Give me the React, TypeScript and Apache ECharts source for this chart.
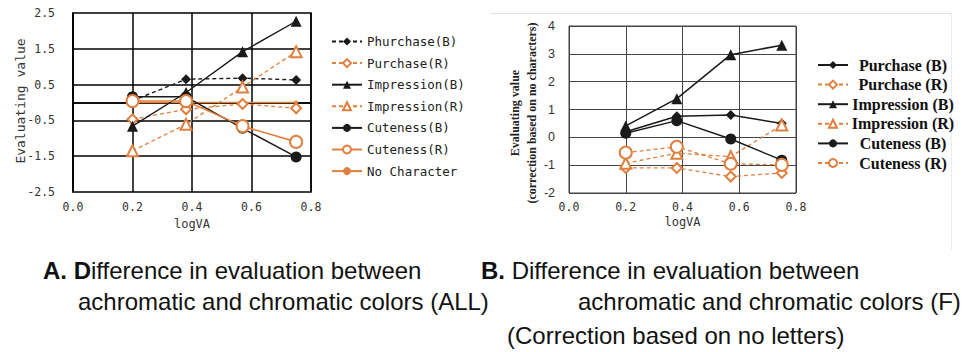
import React, { useEffect, useRef } from "react";
import * as echarts from "echarts";

const logVA = [0.2, 0.38, 0.57, 0.75];

// Chart A (ALL)
const namesA = ["Phurchase(B)", "Purchase(R)", "Impression(B)", "Impression(R)", "Cuteness(B)", "Cuteness(R)", "No Character"];
const phurchaseB_A = [0.05, 0.65, 0.68, 0.63];
const purchaseR_A = [-0.47, -0.19, -0.04, -0.16];
const impressionB_A = [-0.66, 0.28, 1.42, 2.27];
const impressionR_A = [-1.35, -0.61, 0.43, 1.42];
const cutenessB_A = [0.16, 0.16, -0.72, -1.52];
const cutenessR_A = [0.04, 0.04, -0.66, -1.1];
const noCharacter_A = [0, 0, 0, 0];
const yTicksA = [-2.5, -1.5, -0.5, 0.5, 1.5, 2.5];
const yGridA = [-1.5, -0.5, 0, 0.5, 1.5];

// Chart B (F)
const namesB = ["Purchase (B)", "Purchase (R)", "Impression (B)", "Impression (R)", "Cuteness (B)", "Cuteness (R)"];
const purchaseB_B = [0.2, 0.76, 0.8, 0.5];
const purchaseR_B = [-1.1, -1.1, -1.41, -1.28];
const impressionB_B = [0.41, 1.39, 2.97, 3.31];
const impressionR_B = [-0.93, -0.57, -0.69, 0.44];
const cutenessB_B = [0.15, 0.6, -0.06, -0.82];
const cutenessR_B = [-0.55, -0.34, -0.95, -0.99];

const BLACK = "#1a1a1a";
const ORANGE = "#e07f3e";
const MONO = "DejaVu Sans Mono";
const SERIF = "Liberation Serif, Times New Roman, serif";

const pts = (ys: number[]) => ys.map((y, i) => [logVA[i], y]);

export default function App() {
  const ref = useRef<HTMLDivElement>(null);
  useEffect(() => {
    if (!ref.current) return;
    const chart = echarts.init(ref.current, null, { renderer: "svg" });

    const mk = (
      name: string, data: number[], idx: number, color: string, dashed: boolean,
      symbol: string, size: number, width: number
    ) => ({
      type: "line",
      name,
      xAxisIndex: idx,
      yAxisIndex: idx,
      data: pts(data),
      symbol,
      symbolSize: size,
      itemStyle: { color },
      lineStyle: { color, width, type: dashed ? [4, 3] : "solid" },
      z: 3,
    });

    const seriesA: any[] = [
      mk(namesA[0], phurchaseB_A, 0, BLACK, true, "diamond", 10, 1.4),
      mk(namesA[1], purchaseR_A, 0, ORANGE, true, "emptyDiamond", 10, 1.3),
      mk(namesA[2], impressionB_A, 0, BLACK, false, "triangle", 11, 1.4),
      mk(namesA[3], impressionR_A, 0, ORANGE, true, "emptyTriangle", 11, 1.3),
      mk(namesA[4], cutenessB_A, 0, BLACK, false, "circle", 11, 1.4),
      mk(namesA[5], cutenessR_A, 0, ORANGE, false, "emptyCircle", 12, 1.6),
      {
        ...mk(namesA[6], noCharacter_A, 0, ORANGE, false, "circle", 4, 1.5),
        z: 2,
        markLine: {
          silent: true,
          z: 1,
          symbol: ["none", "none"],
          label: { show: false },
          emphasis: { disabled: true },
          lineStyle: { color: "#000", type: "solid", width: 1.5, opacity: 1 },
          data: yGridA.map((v) => ({ yAxis: v })),
        },
      },
    ];

    const seriesB: any[] = [
      mk(namesB[0], purchaseB_B, 1, BLACK, false, "diamond", 10, 1.5),
      mk(namesB[1], purchaseR_B, 1, ORANGE, true, "emptyDiamond", 10, 1.3),
      mk(namesB[2], impressionB_B, 1, BLACK, false, "triangle", 11, 1.5),
      mk(namesB[3], impressionR_B, 1, ORANGE, true, "emptyTriangle", 11, 1.3),
      mk(namesB[4], cutenessB_B, 1, BLACK, false, "circle", 11, 1.5),
      mk(namesB[5], cutenessR_B, 1, ORANGE, true, "emptyCircle", 12, 1.3),
    ];

    const capFont = "Liberation Sans, Arial, sans-serif";
    const capSize = 24;

    chart.setOption({
      animation: false,
      backgroundColor: "#fff",
      grid: [
        { left: 73, top: 13, width: 238, height: 179, show: true, borderColor: "#000", borderWidth: 1.5 },
        { left: 569, top: 26, width: 227, height: 167, show: true, borderColor: "#444", borderWidth: 1 },
      ],
      xAxis: [
        {
          type: "value", gridIndex: 0, min: 0, max: 0.8, interval: 0.2,
          axisLine: { show: true, lineStyle: { color: "#000", width: 1.5 } },
          axisTick: { show: false },
          splitLine: { show: true, lineStyle: { color: "#000", width: 1.5 } },
          axisLabel: { formatter: (v: number) => v.toFixed(1), fontFamily: MONO, fontSize: 11.5, color: "#333", margin: 9 },
          name: "logVA", nameLocation: "middle", nameGap: 24,
          nameTextStyle: { fontFamily: MONO, fontSize: 12, color: "#333" },
        },
        {
          type: "value", gridIndex: 1, min: 0, max: 0.8, interval: 0.2,
          axisLine: { show: true, lineStyle: { color: "#444" } },
          axisTick: { show: false },
          splitLine: { show: true, lineStyle: { color: "#444", width: 1 } },
          axisLabel: { formatter: (v: number) => v.toFixed(1), fontFamily: MONO, fontSize: 11.5, color: "#333", margin: 8 },
          name: "logVA", nameLocation: "middle", nameGap: 23,
          nameTextStyle: { fontFamily: MONO, fontSize: 12, color: "#333" },
        },
      ],
      yAxis: [
        {
          type: "value", gridIndex: 0, min: -2.5, max: 2.5, interval: 0.5,
          axisLine: { show: true, lineStyle: { color: "#000", width: 1.5 } },
          axisTick: { show: false },
          splitLine: { show: false },
          axisLabel: {
            formatter: (v: number) => (yTicksA.some((t) => Math.abs(t - v) < 1e-6) ? v.toFixed(1) : ""),
            fontFamily: MONO, fontSize: 11.5, color: "#333", margin: 18,
          },
        },
        {
          type: "value", gridIndex: 1, min: -2, max: 4, interval: 1,
          axisLine: { show: true, lineStyle: { color: "#444" } },
          axisTick: { show: false },
          splitLine: { show: true, lineStyle: { color: "#444", width: 1 } },
          axisLabel: { fontFamily: "Liberation Sans, Arial", fontSize: 12.5, color: "#333", margin: 14 },
        },
      ],
      legend: [
        {
          data: namesA, orient: "vertical", left: 326, top: 29,
          itemWidth: 30, itemHeight: 10, itemGap: 6.6,
          textStyle: { fontFamily: MONO, fontSize: 12.5, color: "#222", lineHeight: 15 },
        },
        {
          data: namesB, orient: "vertical", left: 812, top: 51,
          itemWidth: 30, itemHeight: 10, itemGap: 1.6,
          formatter: (n: string) => "{c|" + n + "}",
          textStyle: {
            fontFamily: SERIF, fontWeight: "bold", fontSize: 16, color: "#111",
            rich: { c: { width: 100, height: 18, align: "center", fontFamily: SERIF, fontWeight: "bold", fontSize: 16, lineHeight: 18, color: "#111" } },
          },
        },
      ],
      graphic: [
        { type: "line", shape: { x1: 490, y1: 13.5, x2: 951, y2: 13.5 }, style: { stroke: "#e2e2e2", lineWidth: 1 }, silent: true },
        { type: "line", shape: { x1: 951.5, y1: 13, x2: 951.5, y2: 250 }, style: { stroke: "#ececec", lineWidth: 1 }, silent: true },
        {
          type: "text", x: 20, y: 101, rotation: Math.PI / 2,
          style: { text: "Evaluating value", fontFamily: MONO, fontSize: 13, fill: "#333", align: "center", verticalAlign: "middle" },
        },
        {
          type: "text", x: 523, y: 113, rotation: Math.PI / 2,
          style: {
            text: "Evaluating value\n(correction based on no characters)",
            fontFamily: SERIF, fontWeight: "bold", fontSize: 12, lineHeight: 17,
            fill: "#222", align: "center", verticalAlign: "middle",
          },
        },
        {
          type: "text", x: 43, y: 270,
          style: {
            text: "{b|A. D}{n|ifference in evaluation between}",
            rich: {
              b: { fontFamily: capFont, fontSize: capSize, fontWeight: "bold", fill: "#111" },
              n: { fontFamily: capFont, fontSize: capSize, fill: "#111" },
            },
            fontFamily: capFont, fontSize: capSize, fill: "#111", verticalAlign: "middle",
          },
        },
        {
          type: "text", x: 78, y: 301,
          style: { text: "achromatic and chromatic colors (ALL)", fontFamily: capFont, fontSize: capSize, fill: "#111", verticalAlign: "middle" },
        },
        {
          type: "text", x: 481, y: 270,
          style: {
            text: "{b|B.}{n| Difference in evaluation between}",
            rich: {
              b: { fontFamily: capFont, fontSize: capSize, fontWeight: "bold", fill: "#111" },
              n: { fontFamily: capFont, fontSize: capSize, fill: "#111" },
            },
            fontFamily: capFont, fontSize: capSize, fill: "#111", verticalAlign: "middle",
          },
        },
        {
          type: "text", x: 578, y: 301,
          style: { text: "achromatic and chromatic colors (F)", fontFamily: capFont, fontSize: capSize, fill: "#111", verticalAlign: "middle" },
        },
        {
          type: "text", x: 507, y: 335,
          style: { text: "(Correction based on no letters)", fontFamily: capFont, fontSize: capSize, fill: "#111", verticalAlign: "middle" },
        },
      ],
      series: [...seriesA, ...seriesB],
    });

    return () => chart.dispose();
  }, []);

  return <div ref={ref} style={{ position: "fixed", left: 0, top: 0, width: 965, height: 352 }} />;
}
